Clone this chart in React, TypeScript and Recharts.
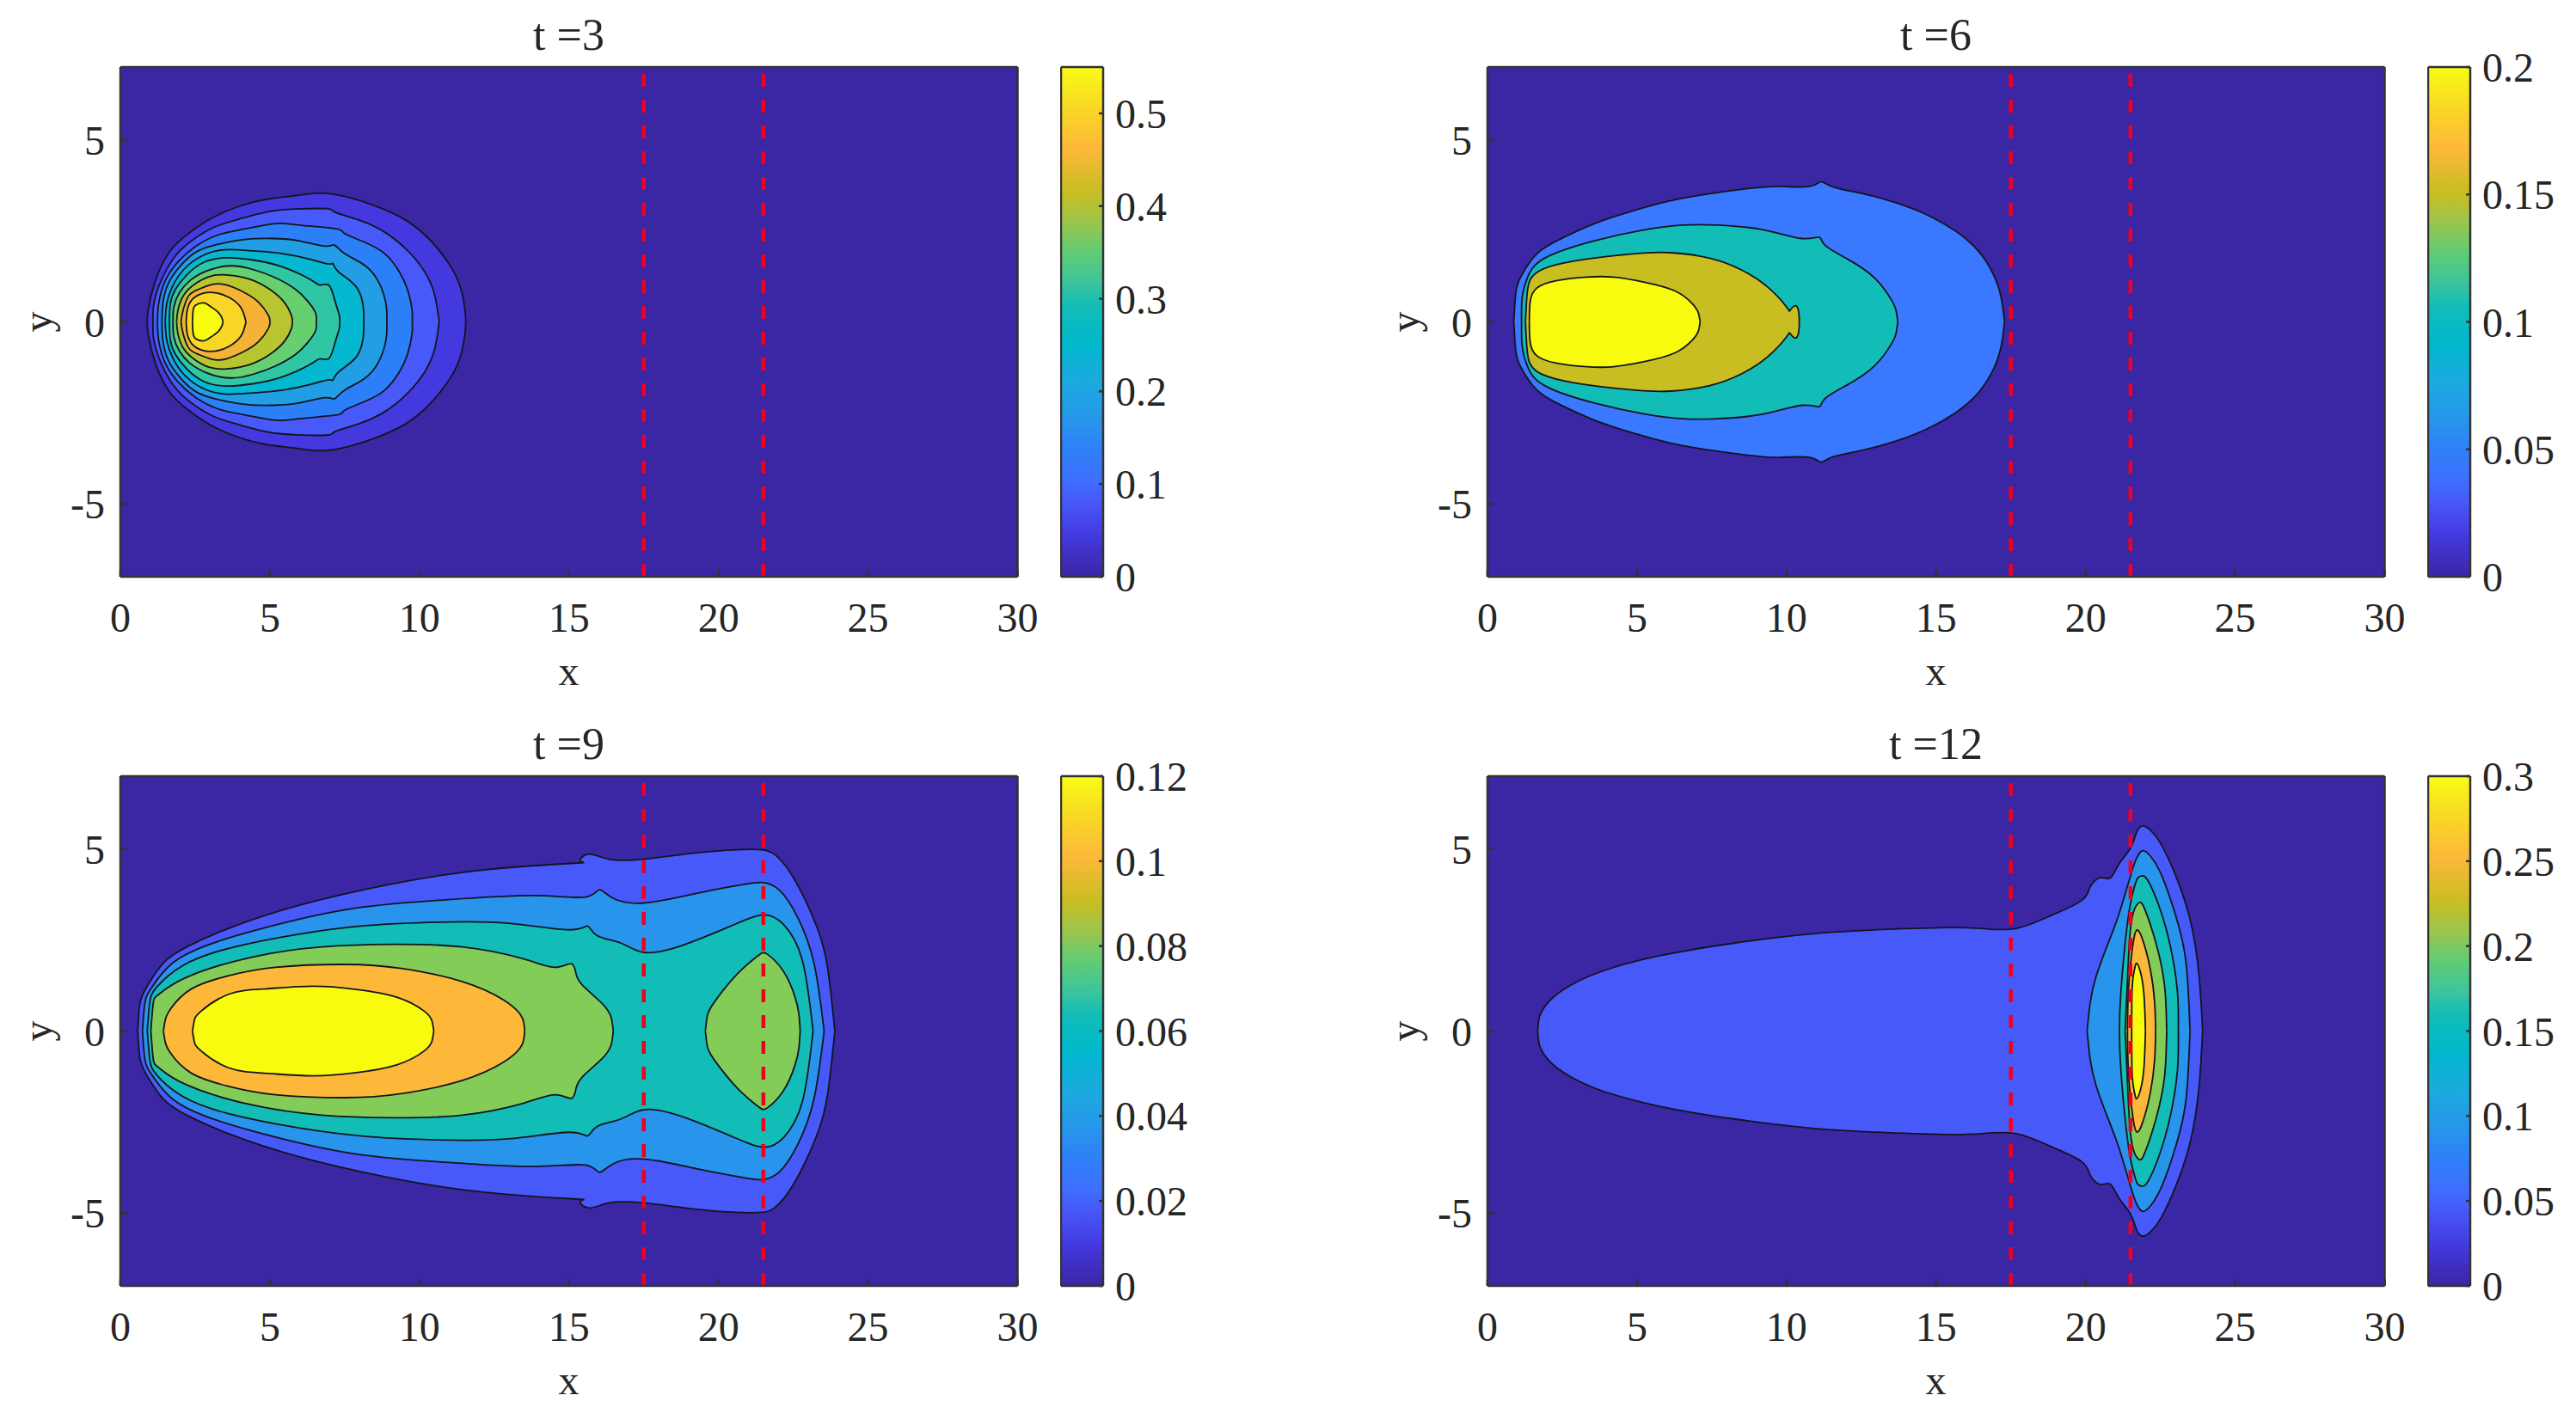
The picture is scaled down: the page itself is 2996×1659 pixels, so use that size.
import { Area, CartesianGrid, ComposedChart, ReferenceLine, XAxis, YAxis } from 'recharts'

type Pt = [number, number] // x, half height of the closed contour

const X_TICKS = [0, 5, 10, 15, 20, 25, 30]
const Y_TICKS = [-5, 0, 5]
const GATE_LINES = [17.5, 21.5]
const BACKGROUND = '#3B26A3'
const INK = '#262626'
const SERIF = '"Liberation Serif", "Times New Roman", serif'

const PARULA_COLORS = [
  '#F9FB15', '#F8DC22', '#FDB83A', '#C8BE22', '#A0C44A', '#62CC72', '#3EC59A', '#12BDB8',
  '#00B8CC', '#1CAADF', '#2796EB', '#2F80F8', '#3E6FFF', '#4859FA', '#4339DF', '#3B26A3',
]
const PARULA_OFFSETS = [0, 0.07, 0.16, 0.245, 0.3, 0.36, 0.42, 0.47, 0.54, 0.62, 0.69, 0.75, 0.81, 0.85, 0.92, 1]

const T3_COLORS = ['#4339DF', '#4859FA', '#2C80F7', '#229FE4', '#03B8CF', '#2EC6A4', '#66CF70', '#B8C430', '#F4B236', '#F9D626', '#F9FB0E']
const T3_CONTOURS: Pt[][] = [
  [[0.9, 0], [0.93, 0.34], [1.17, 1.13], [1.64, 1.92], [2.22, 2.39], [2.99, 2.82], [3.95, 3.17], [4.9, 3.37], [5.86, 3.47], [6.65, 3.54], [7.49, 3.45], [8.45, 3.21], [9.41, 2.86], [10.18, 2.39], [10.85, 1.76], [11.33, 1.05], [11.52, 0.34], [11.55, 0]],
  [[1.09, 0], [1.12, 0.5], [1.36, 1.13], [1.79, 1.76], [2.32, 2.19], [3.08, 2.58], [3.95, 2.82], [4.9, 3.02], [5.86, 3.1], [6.92, 3.11], [7.16, 3.02], [7.97, 2.8], [8.83, 2.47], [9.6, 1.96], [10.18, 1.37], [10.51, 0.74], [10.66, 0]],
  [[1.24, 0], [1.28, 0.5], [1.5, 1.13], [1.93, 1.65], [2.51, 2.07], [3.27, 2.39], [4.14, 2.55], [5.19, 2.7], [5.96, 2.66], [7.2, 2.56], [7.49, 2.43], [8.16, 2.19], [8.83, 1.88], [9.31, 1.4], [9.6, 0.89], [9.75, 0.34], [9.76, 0]],
  [[1.39, 0], [1.42, 0.5], [1.6, 1.05], [2.03, 1.56], [2.6, 1.95], [3.37, 2.15], [4.23, 2.27], [5.1, 2.29], [5.96, 2.23], [6.85, 2.08], [7.16, 2.11], [7.49, 1.88], [8.16, 1.56], [8.64, 1.09], [8.88, 0.5], [8.91, 0]],
  [[1.5, 0], [1.55, 0.5], [1.74, 0.97], [2.12, 1.44], [2.7, 1.8], [3.47, 1.98], [4.43, 1.95], [5.38, 1.88], [6.34, 1.72], [6.97, 1.59], [7.11, 1.6], [7.3, 1.37], [7.88, 0.97], [8.12, 0.42], [8.14, 0]],
  [[1.64, 0], [1.67, 0.5], [1.84, 0.89], [2.22, 1.29], [2.8, 1.64], [3.56, 1.76], [4.43, 1.7], [5.38, 1.52], [6.34, 1.17], [6.68, 1.01], [6.97, 1.01], [7.16, 0.62], [7.32, 0.18], [7.33, 0]],
  [[1.76, 0], [1.79, 0.42], [1.98, 0.81], [2.32, 1.13], [2.89, 1.4], [3.66, 1.54], [4.43, 1.44], [5.19, 1.21], [5.86, 0.89], [6.25, 0.58], [6.52, 0.26], [6.55, 0]],
  [[1.88, 0], [1.93, 0.34], [2.12, 0.74], [2.51, 1.05], [2.99, 1.25], [3.56, 1.29], [4.33, 1.17], [5.0, 0.89], [5.48, 0.54], [5.72, 0.18], [5.75, 0]],
  [[2.03, 0], [2.08, 0.26], [2.27, 0.7], [2.6, 0.89], [3.08, 1.03], [3.56, 1.01], [4.14, 0.81], [4.62, 0.54], [4.95, 0.18], [5.0, 0]],
  [[2.2, 0], [2.24, 0.34], [2.41, 0.62], [2.75, 0.78], [3.18, 0.8], [3.66, 0.66], [4.04, 0.38], [4.2, 0]],
  [[2.41, 0], [2.43, 0.3], [2.52, 0.46], [2.79, 0.52], [3.02, 0.42], [3.25, 0.28], [3.39, 0.12], [3.43, 0]],
]

const T6_COLORS = ['#3A78FF', '#12BDB8', '#C8BE22', '#F9FB0E']
const T6_CONTOURS: Pt[][] = [
  [[0.88, 0], [0.95, 0.81], [1.14, 1.28], [1.65, 1.87], [2.42, 2.27], [3.58, 2.7], [4.86, 3.05], [6.14, 3.33], [7.43, 3.52], [8.71, 3.66], [9.74, 3.72], [10.77, 3.72], [11.15, 3.85], [11.54, 3.71], [12.56, 3.52], [13.59, 3.29], [14.62, 2.97], [15.64, 2.5], [16.41, 1.95], [16.93, 1.28], [17.18, 0.65], [17.29, 0]],
  [[1.14, 0], [1.16, 0.65], [1.33, 1.2], [1.91, 1.75], [3.58, 2.23], [5.25, 2.53], [6.53, 2.66], [7.68, 2.66], [9.23, 2.53], [10.51, 2.29], [11.09, 2.33], [11.28, 2.11], [12.05, 1.72], [12.95, 1.2], [13.53, 0.57], [13.67, 0.28], [13.72, 0]],
  [[1.27, 0], [1.33, 0.81], [1.65, 1.36], [2.94, 1.68], [4.86, 1.87], [6.14, 1.9], [7.43, 1.75], [8.46, 1.44], [9.35, 0.97], [9.99, 0.42], [10.12, 0.32], [10.32, 0.44], [10.42, 0.18], [10.42, 0]],
  [[1.4, 0], [1.43, 0.57], [1.65, 0.93], [2.29, 1.13], [3.32, 1.23], [4.22, 1.23], [5.25, 1.09], [6.27, 0.85], [6.85, 0.5], [7.05, 0.25], [7.11, 0]],
]

const T9_COLORS = ['#4859FA', '#2894EB', '#12BDB8', '#84CC58', '#84CC58', '#FDB83A', '#F9FB0E']
const T9_CONTOURS: Pt[][] = [
  [[0.58, 0], [0.66, 0.77], [0.9, 1.24], [1.44, 1.87], [2.22, 2.31], [3.62, 2.82], [5.96, 3.45], [9.08, 4.04], [12.2, 4.43], [15.16, 4.61], [15.39, 4.67], [15.66, 4.86], [16.33, 4.72], [17.5, 4.72], [19.21, 4.89], [20.62, 4.98], [21.43, 4.98], [21.86, 4.86], [22.49, 4.23], [23.27, 2.9], [23.65, 1.72], [23.89, 0]],
  [[0.74, 0], [0.82, 0.77], [1.05, 1.2], [1.75, 1.87], [2.85, 2.34], [4.4, 2.74], [7.52, 3.33], [10.64, 3.59], [13.76, 3.72], [15.55, 3.68], [16.02, 3.88], [16.49, 3.64], [17.57, 3.52], [19.37, 3.8], [20.93, 4.04], [21.47, 4.08], [22.02, 3.88], [22.64, 3.13], [23.19, 1.87], [23.53, 0]],
  [[0.9, 0], [0.98, 0.77], [1.21, 1.2], [2.07, 1.79], [3.62, 2.27], [5.96, 2.66], [8.3, 2.9], [10.64, 2.99], [12.98, 2.96], [15.0, 2.78], [15.63, 2.88], [15.94, 2.62], [16.72, 2.42], [17.5, 2.16], [18.75, 2.34], [20.46, 2.9], [21.5, 3.19], [22.17, 2.93], [22.8, 1.95], [23.16, 0]],
  [[1.02, 0], [1.1, 0.77], [1.29, 1.01], [2.22, 1.48], [4.4, 2.03], [6.74, 2.31], [9.08, 2.38], [11.42, 2.31], [13.44, 1.99], [14.54, 1.75], [15.08, 1.85], [15.24, 1.56], [15.47, 1.24], [16.09, 0.77], [16.4, 0.4], [16.48, 0]],
  [[19.56, 0], [19.62, 0.4], [19.84, 0.77], [20.62, 1.56], [21.32, 2.07], [21.63, 2.11], [22.17, 1.64], [22.56, 0.93], [22.69, 0.45], [22.73, 0]],
  [[1.44, 0], [1.5, 0.3], [1.68, 0.61], [2.38, 1.16], [3.62, 1.52], [5.18, 1.75], [7.52, 1.83], [9.39, 1.72], [11.42, 1.36], [12.82, 0.85], [13.37, 0.46], [13.49, 0.22], [13.52, 0]],
  [[2.41, 0], [2.47, 0.28], [2.69, 0.54], [3.62, 1.01], [4.87, 1.16], [6.43, 1.23], [7.83, 1.15], [9.24, 0.93], [10.17, 0.54], [10.42, 0.27], [10.48, 0]],
]

const T12_COLORS = ['#4859FA', '#2894EB', '#12BDB8', '#84CC58', '#FDB83A', '#F9FB0E']
const T12_CONTOURS: Pt[][] = [
  [[1.68, 0], [1.71, 0.28], [1.81, 0.53], [2.19, 0.92], [2.9, 1.31], [3.93, 1.67], [5.72, 2.06], [8.29, 2.42], [10.86, 2.67], [12.79, 2.77], [15.35, 2.84], [16.64, 2.81], [17.68, 2.82], [18.81, 3.16], [19.86, 3.58], [20.15, 3.95], [20.48, 4.21], [20.82, 4.2], [21.11, 4.58], [21.49, 5.01], [21.68, 5.41], [21.87, 5.63], [22.16, 5.52], [22.55, 5.09], [23.03, 4.23], [23.5, 3.04], [23.79, 1.55], [23.91, 0]],
  [[20.05, 0], [20.15, 0.76], [20.34, 1.47], [20.72, 2.34], [21.11, 3.2], [21.49, 4.23], [21.68, 4.7], [21.89, 4.95], [22.16, 4.81], [22.55, 4.26], [23.03, 3.12], [23.36, 1.86], [23.49, 0]],
  [[21.13, 0], [21.18, 1.08], [21.4, 2.97], [21.59, 3.83], [21.73, 4.19], [21.88, 4.26], [22.07, 4.15], [22.45, 3.44], [22.83, 2.34], [23.07, 1.08], [23.1, 0]],
  [[21.32, 0], [21.4, 1.39], [21.49, 2.73], [21.64, 3.36], [21.8, 3.53], [21.97, 3.36], [22.35, 2.42], [22.64, 1.24], [22.71, 0]],
  [[21.4, 0], [21.44, 1.24], [21.59, 2.42], [21.71, 2.77], [21.88, 2.57], [22.16, 1.71], [22.31, 0.76], [22.34, 0]],
  [[21.54, 0], [21.56, 1.24], [21.64, 1.71], [21.7, 1.86], [21.83, 1.63], [21.95, 1.0], [22.0, 0]],
]

const T3_BAR_TICKS = [0, 0.1, 0.2, 0.3, 0.4, 0.5]
const T6_BAR_TICKS = [0, 0.05, 0.1, 0.15, 0.2]
const T9_BAR_TICKS = [0, 0.02, 0.04, 0.06, 0.08, 0.1, 0.12]
const T12_BAR_TICKS = [0, 0.05, 0.1, 0.15, 0.2, 0.25, 0.3]

const toBand = (pts: Pt[]) => pts.map(([x, h]) => ({ x, band: [-h, h] }))

const tickStyle = { fontFamily: SERIF, fontSize: 48, fill: INK }
const titleStyle = { fontFamily: SERIF, fontSize: 52, fill: INK }
const frame = { stroke: '#333333', strokeWidth: 2.5 }

function Panel({ left, top, title, contours, colors }: { left: number; top: number; title: string; contours: Pt[][]; colors: string[] }) {
  const W = 1223.5
  const H = 830
  return (
    <div style={{ position: 'absolute', left: left - 140, top: top - 78 }}>
      <ComposedChart width={W} height={H} margin={{ top: 77, right: 39, bottom: 0, left: 0 }}>
        <CartesianGrid fill={BACKGROUND} horizontal={false} vertical={false} />
        {contours.map((pts, i) => (
          <Area
            key={i}
            data={toBand(pts)}
            dataKey="band"
            type="natural"
            fill={colors[i]}
            fillOpacity={1}
            stroke="#14141e"
            strokeWidth={1.8}
            dot={false}
            activeDot={false}
            isAnimationActive={false}
          />
        ))}
        {GATE_LINES.map((x) => (
          <ReferenceLine key={x} x={x} stroke="#F0001E" strokeWidth={4.5} strokeDasharray="15 15" />
        ))}
        <XAxis dataKey="x" type="number" domain={[0, 30]} ticks={X_TICKS} interval={0} height={159} tickSize={-8} tickMargin={38} axisLine={frame} tickLine={frame} tick={tickStyle} />
        <XAxis xAxisId="top" orientation="top" type="number" domain={[0, 30]} ticks={X_TICKS} interval={0} height={1} tickSize={-8} axisLine={frame} tickLine={frame} tickFormatter={() => ''} />
        <YAxis type="number" domain={[-7, 7]} ticks={Y_TICKS} interval={0} width={140} tickSize={-8} tickMargin={26} axisLine={frame} tickLine={frame} tick={tickStyle} />
        <YAxis yAxisId="right" orientation="right" type="number" domain={[-7, 7]} ticks={Y_TICKS} interval={0} width={1} tickSize={-8} axisLine={frame} tickLine={frame} tickFormatter={() => ''} />
        <text x={661.5} y={58} textAnchor="middle" style={titleStyle}>{title}</text>
        <text x={661.5} y={797} textAnchor="middle" style={tickStyle}>x</text>
        <text x={60} y={374.5} textAnchor="middle" transform="rotate(-90 60 374.5)" style={tickStyle}>y</text>
      </ComposedChart>
    </div>
  )
}

function ColorBar({ left, top, id, max, ticks }: { left: number; top: number; id: string; max: number; ticks: number[] }) {
  const data = [{ x: 0, v: max }, { x: 1, v: max }]
  return (
    <div style={{ position: 'absolute', left: left - 1, top: top - 40 }}>
      <ComposedChart width={180} height={673} data={data} margin={{ top: 39, right: 129, bottom: 39, left: 0 }}>
        <defs>
          <linearGradient id={id} x1="0" y1="0" x2="0" y2="1">
            {PARULA_COLORS.map((c, i) => (
              <stop key={i} offset={PARULA_OFFSETS[i]} stopColor={c} />
            ))}
          </linearGradient>
        </defs>
        <Area dataKey="v" type="linear" fill={`url(#${id})`} fillOpacity={1} stroke="none" dot={false} activeDot={false} isAnimationActive={false} />
        <XAxis dataKey="x" type="number" domain={[0, 1]} height={1} tick={false} tickLine={false} axisLine={frame} />
        <XAxis xAxisId="top" orientation="top" type="number" domain={[0, 1]} height={1} tick={false} tickLine={false} axisLine={frame} />
        <YAxis yAxisId="left" type="number" domain={[0, max]} width={1} tick={false} tickLine={false} axisLine={frame} />
        <YAxis orientation="right" type="number" domain={[0, max]} ticks={ticks} interval={0} width={1} tickSize={-5} tickMargin={19} axisLine={frame} tickLine={frame} tick={tickStyle} />
      </ComposedChart>
    </div>
  )
}

export default function App() {
  return (
    <div style={{ position: 'absolute', left: 0, top: 0, width: 2996, height: 1659, background: '#fff', overflow: 'hidden' }}>
      <Panel left={140} top={78} title="t =3" contours={T3_CONTOURS} colors={T3_COLORS} />
      <Panel left={1730} top={78} title="t =6" contours={T6_CONTOURS} colors={T6_COLORS} />
      <Panel left={140} top={903} title="t =9" contours={T9_CONTOURS} colors={T9_COLORS} />
      <Panel left={1730} top={903} title="t =12" contours={T12_CONTOURS} colors={T12_COLORS} />
      <ColorBar left={1234} top={78} id="bar3" max={0.55} ticks={T3_BAR_TICKS} />
      <ColorBar left={2824} top={78} id="bar6" max={0.2} ticks={T6_BAR_TICKS} />
      <ColorBar left={1234} top={903} id="bar9" max={0.12} ticks={T9_BAR_TICKS} />
      <ColorBar left={2824} top={903} id="bar12" max={0.3} ticks={T12_BAR_TICKS} />
    </div>
  )
}
